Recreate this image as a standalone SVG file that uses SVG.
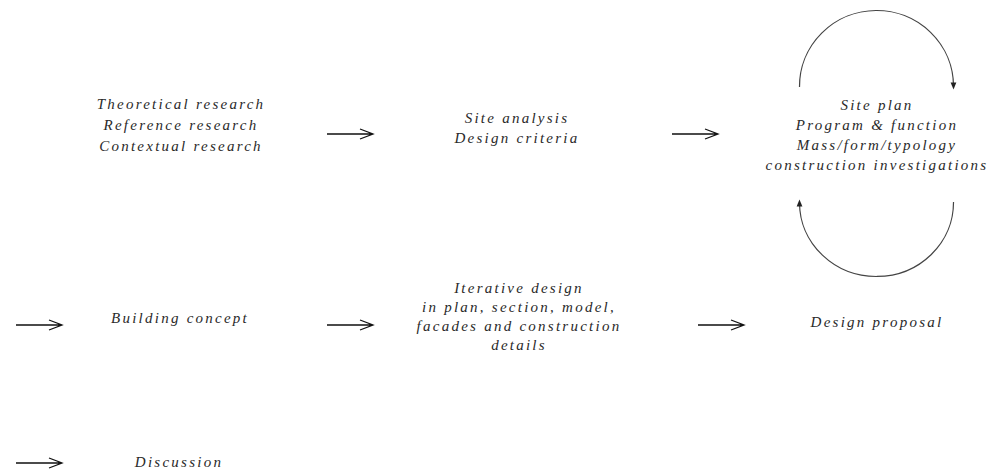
<svg xmlns="http://www.w3.org/2000/svg" width="992" height="472" viewBox="0 0 992 472">
<style>
text{font-family:"Liberation Serif","DejaVu Serif",serif;font-style:italic;font-size:15px;letter-spacing:2.25px;fill:#2a2a2a;text-anchor:middle}
.ar{stroke:#111;stroke-width:1.3;fill:none}
.arc{stroke:#444;stroke-width:1.2;fill:none}
</style>
<defs>
<marker id="tri" viewBox="0 0 10 10" refX="5" refY="5" markerWidth="6" markerHeight="6" orient="auto"><path d="M0,1 L10,5 L0,9 z" fill="#222"/></marker>
<path id="arw" d="M0,0 H46 M33,-5 L46,0 L33,5"/>
</defs>
<rect width="992" height="472" fill="#fff"/>
<g id="n-research"><text x="181" y="109">Theoretical research</text><text x="181" y="130">Reference research</text><text x="181" y="151">Contextual research</text></g>
<g id="n-site"><text x="517" y="123">Site analysis</text><text x="517" y="143">Design criteria</text></g>
<g id="n-plan"><text x="877" y="110">Site plan</text><text x="877" y="130">Program &amp; function</text><text x="877" y="150">Mass/form/typology</text><text x="877" y="170">construction investigations</text></g>
<g id="n-concept"><text x="180" y="323">Building concept</text></g>
<g id="n-iterative"><text x="519" y="293">Iterative design</text><text x="519" y="312">in plan, section, model,</text><text x="519" y="331">facades and construction</text><text x="519" y="350">details</text></g>
<g id="n-proposal"><text x="877" y="327">Design proposal</text></g>
<g id="n-discussion"><text x="179" y="467">Discussion</text></g>
<g id="connectors">
<use href="#arw" class="ar" x="327" y="134"/>
<use href="#arw" class="ar" x="672" y="134"/>
<use href="#arw" class="ar" x="16" y="325"/>
<use href="#arw" class="ar" x="327" y="325"/>
<use href="#arw" class="ar" x="698" y="325"/>
<use href="#arw" class="ar" x="16" y="463"/>
<path class="arc" d="M799.5,87 A77,76 0 0 1 953.5,86" marker-end="url(#tri)"/>
<path class="arc" d="M953.5,202 A77,74 0 0 1 799.5,203" marker-end="url(#tri)"/>
</g>
</svg>
